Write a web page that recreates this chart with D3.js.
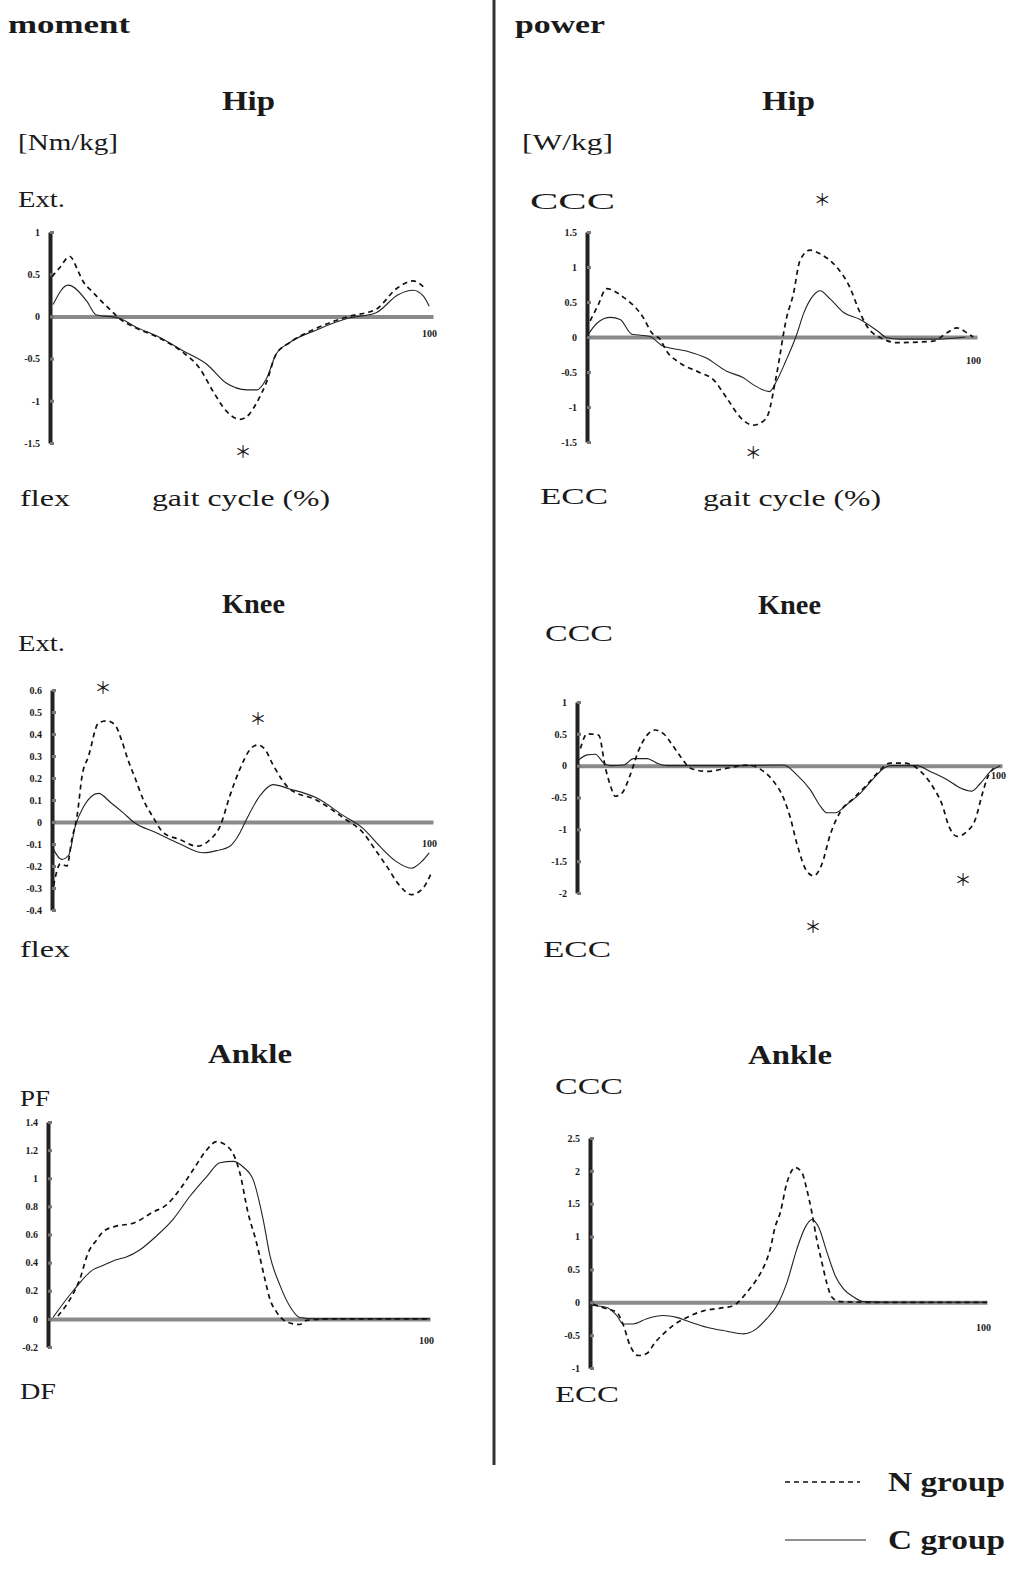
<!DOCTYPE html>
<html lang="en">
<head>
<meta charset="UTF-8">
<script src="https://d3js.org/d3.v7.min.js"></script>
<title>Joint moment and power</title>
<style>
  body{margin:0;background:#fff;}
  svg text{font-family:"Liberation Serif","DejaVu Serif",serif;fill:#1a1a1a;}
  .tick text{font-size:10px;font-weight:bold;}
  .ylab .domain{stroke:#222;stroke-width:4px;}
  .ylab .tick line{stroke:#777;stroke-width:3px;}
  .xlab .domain{stroke:#8a8a8a;stroke-width:4px;}
  .n-line{fill:none;stroke:#111;stroke-width:1.7px;stroke-dasharray:5,4;}
  .c-line{fill:none;stroke:#222;stroke-width:1.1px;}
</style>
<script>
// gait cycle (%) , value
var hipMomN = [[0.5,0.47],[2.4,0.57],[5.2,0.71],[7.4,0.53],[8.7,0.41],[10.9,0.30],[13,0.2],[15.7,0.08],[18,-0.02],[22.6,-0.14],[27.8,-0.24],[34.8,-0.43],[39,-0.61],[42.6,-0.89],[46,-1.12],[49.6,-1.22],[52,-1.16],[54,-1.02],[56.6,-0.77],[59,-0.45],[62.6,-0.31],[69.6,-0.14],[78,0],[85,0.08],[90.5,0.33],[94.8,0.42],[98,0.33]];
var hipMomC = [[0.8,0.14],[4.7,0.37],[9.6,0.18],[12,0.02],[18,-0.02],[22.6,-0.13],[27.8,-0.23],[34.8,-0.41],[41,-0.57],[46,-0.79],[51.4,-0.87],[54,-0.87],[56.6,-0.73],[59,-0.45],[62.6,-0.31],[69.6,-0.16],[78,-0.02],[85,0.04],[91,0.26],[94.8,0.31],[97.5,0.24],[99,0.12]];
var hipMomTicks = [1,0.5,0,-0.5,-1,-1.5];
var hipMomStars = [[50.4,-1.61]];

var kneeMomN = [[0.4,-0.29],[2.2,-0.19],[3.9,-0.2],[5.2,-0.08],[6.6,0.03],[7.9,0.21],[9.6,0.3],[12.2,0.45],[14.4,0.46],[16.6,0.44],[18.3,0.37],[20,0.28],[21.8,0.2],[24,0.1],[26.6,0.02],[29.3,-0.05],[33.6,-0.08],[38,-0.11],[41.5,-0.08],[44.1,-0.02],[46.7,0.12],[49.3,0.24],[52,0.33],[54,0.35],[55.9,0.33],[58,0.26],[62.4,0.15],[69.4,0.1],[76.4,0.02],[81.7,-0.05],[85,-0.13],[87.8,-0.2],[91.3,-0.29],[94.3,-0.33],[97.4,-0.3],[99.6,-0.23]];
var kneeMomC = [[0,-0.11],[2.6,-0.17],[4.4,-0.15],[6.1,-0.02],[8.3,0.07],[12.2,0.13],[15.3,0.09],[18.8,0.04],[21.4,0],[27.5,-0.05],[33.6,-0.1],[39.7,-0.14],[43.2,-0.13],[46.7,-0.11],[49.3,-0.05],[51,0.01],[54.6,0.12],[58,0.17],[62.4,0.15],[69.4,0.11],[76.4,0.03],[81.7,-0.03],[86,-0.11],[90.4,-0.18],[94.3,-0.21],[97,-0.18],[99,-0.14]];
var kneeMomTicks = [0.6,0.5,0.4,0.3,0.2,0.1,0,-0.1,-0.2,-0.3,-0.4];
var kneeMomStars = [[13.4,0.61],[54.1,0.47]];

var ankleMomN = [[2.6,0.02],[6.6,0.18],[8.3,0.28],[10.5,0.47],[12.7,0.56],[14.4,0.62],[17.9,0.66],[22.3,0.68],[27.5,0.76],[31,0.81],[34.5,0.92],[38,1.06],[41.5,1.2],[44.1,1.26],[47.6,1.21],[50.2,1.04],[52.4,0.75],[54.6,0.54],[56.8,0.28],[58.1,0.14],[59.8,0.05],[62.4,-0.02],[65.9,-0.04],[67.7,-0.01],[75,0],[100,0]];
var ankleMomC = [[1.3,0.01],[6.6,0.2],[11.8,0.35],[14.4,0.38],[17.9,0.42],[20.5,0.44],[24,0.49],[28.4,0.59],[32.8,0.71],[37.1,0.87],[41.5,1.01],[45,1.11],[48.5,1.12],[51.1,1.08],[53.7,0.99],[56.3,0.71],[58.1,0.45],[60.7,0.24],[63.3,0.09],[65.9,0.01],[70,0],[100,0]];
var ankleMomTicks = [1.4,1.2,1,0.8,0.6,0.4,0.2,0,-0.2];

var hipPowN = [[0.8,0.23],[2.8,0.45],[5,0.69],[9.3,0.57],[14.4,0.28],[16.6,0.06],[18.7,-0.03],[20.4,-0.2],[23.8,-0.37],[29,-0.51],[32.4,-0.61],[35.8,-0.87],[39.2,-1.14],[42.6,-1.26],[45,-1.21],[46.4,-1.11],[48.6,-0.54],[51.2,0.28],[52.9,0.61],[54.6,1.09],[57.2,1.24],[59.7,1.19],[64,1.0],[67.4,0.71],[69.6,0.4],[71.7,0.16],[76,-0.03],[79.4,-0.08],[88.7,-0.06],[92.3,0.06],[94.8,0.13],[97.4,0.06],[99,0]];
var hipPowC = [[0,0.01],[2.6,0.2],[6,0.28],[8.5,0.25],[11.5,0.04],[16,0.01],[19.5,-0.13],[25.5,-0.2],[30.6,-0.3],[35.8,-0.49],[40,-0.58],[42.6,-0.68],[46.8,-0.78],[48.6,-0.63],[51,-0.34],[53.8,0.04],[55.5,0.33],[58,0.59],[59.7,0.66],[62.4,0.54],[65.8,0.35],[70,0.25],[74.4,0.09],[76.9,-0.01],[80,-0.03],[90,-0.03],[97,0]];
var hipPowTicks = [1.5,1,0.5,0,-0.5,-1,-1.5];
var hipPowStars = [[60.3,1.96],[42.6,-1.66]];

var kneePowN = [[0.8,0.27],[2.4,0.5],[5.1,0.48],[6.7,-0.04],[7.8,-0.3],[9,-0.48],[10.6,-0.43],[12.5,-0.15],[14.5,0.24],[16.5,0.48],[18.4,0.56],[20.4,0.5],[22.7,0.3],[24.7,0.11],[26.7,-0.04],[30.6,-0.09],[35.3,-0.04],[40,0.01],[43.9,-0.09],[46.3,-0.25],[48.6,-0.51],[50.2,-0.82],[51.8,-1.24],[54.1,-1.66],[55.7,-1.73],[57.6,-1.55],[59.6,-1.08],[62,-0.72],[65.1,-0.51],[68.2,-0.3],[70.6,-0.12],[73.7,0.04],[76.9,0.04],[80,-0.04],[82,-0.17],[83.9,-0.35],[85.9,-0.61],[87.5,-0.95],[89.4,-1.11],[91.8,-1.03],[93.7,-0.85],[95.3,-0.46],[96.5,-0.2],[98,-0.04]];
var kneePowC = [[0.4,0.09],[2.4,0.17],[4.3,0.18],[6.3,0.04],[7.8,0],[11,0.01],[13.3,0.11],[16.5,0.11],[18.8,0.04],[21.2,0],[35,0],[48.6,0.01],[51.8,-0.15],[54.9,-0.38],[57.3,-0.64],[58.8,-0.74],[60.8,-0.74],[63.5,-0.61],[66.7,-0.43],[69.8,-0.2],[72.2,-0.04],[73.7,0],[80,0],[83.1,-0.09],[87.1,-0.22],[90.2,-0.35],[92.9,-0.4],[94.9,-0.28],[97.3,-0.09],[99.6,0]];
var kneePowTicks = [1,0.5,0,-0.5,-1,-1.5,-2];
var kneePowStars = [[90.8,-1.79],[55.5,-2.54]];

var anklePowN = [[0.8,-0.03],[4.2,-0.1],[6.7,-0.15],[8.4,-0.35],[10.1,-0.66],[12.2,-0.81],[14.3,-0.78],[16.4,-0.61],[18.5,-0.48],[21,-0.35],[24.4,-0.23],[28.6,-0.13],[32.8,-0.09],[36.1,-0.05],[39.9,0.18],[42,0.35],[43.7,0.53],[45.4,0.81],[46.6,1.14],[47.9,1.36],[49.6,1.82],[51.7,2.05],[53.4,1.97],[54.6,1.72],[55.9,1.36],[57.1,0.96],[58.4,0.61],[59.7,0.28],[60.9,0.08],[63,0.01],[70,0],[100,0]];
var anklePowC = [[0.4,-0.05],[4.2,-0.08],[6.7,-0.2],[8.4,-0.33],[10.9,-0.33],[14.3,-0.25],[18.5,-0.2],[21.8,-0.23],[25.2,-0.3],[29.4,-0.38],[34.5,-0.44],[38.7,-0.48],[42,-0.4],[44.5,-0.25],[47.1,-0.05],[49.6,0.3],[52.1,0.81],[54.2,1.14],[55.9,1.26],[57.6,1.14],[59.7,0.76],[61.8,0.4],[63.9,0.2],[66.4,0.08],[68.9,0.01],[75,0],[100,0]];
var anklePowTicks = [2.5,2,1.5,1,0.5,0,-0.5,-1];

function main(){
  var svg = d3.select("svg");

  var panels = [
    {n: hipMomN, c: hipMomC, ticks: hipMomTicks, stars: hipMomStars, px: [50,433], py: [443,232], lab: 22},
    {n: kneeMomN, c: kneeMomC, ticks: kneeMomTicks, stars: kneeMomStars, px: [52,433], py: [910,690], lab: 26},
    {n: ankleMomN, c: ankleMomC, ticks: ankleMomTicks, stars: [], px: [48,430], py: [1347,1122], lab: 26},
    {n: hipPowN, c: hipPowC, ticks: hipPowTicks, stars: hipPowStars, px: [587,977], py: [442,232], lab: 28},
    {n: kneePowN, c: kneePowC, ticks: kneePowTicks, stars: kneePowStars, px: [577,1002], py: [893,702], lab: 14},
    {n: anklePowN, c: anklePowC, ticks: anklePowTicks, stars: [], px: [590,987], py: [1368,1138], lab: 30}
  ];

  panels.forEach(function(p){
    var x = d3.scaleLinear().domain([0,100]).range(p.px);
    var y = d3.scaleLinear().domain(d3.extent(p.ticks)).range(p.py);
    var g = svg.append("g");

    // zero line with the "100" mark
    g.append("g").attr("class","xlab")
      .attr("transform","translate(0,"+y(0)+")")
      .call(d3.axisBottom(x).tickValues([100]).tickSize(0).tickPadding(p.lab - 8)
        .tickFormat(function(d){return d;}))
      .selectAll(".tick text").attr("font-size","12px").attr("dx","-4");

    g.append("g").attr("class","ylab")
      .attr("transform","translate("+p.px[0]+",0)")
      .call(d3.axisLeft(y).tickValues(p.ticks).tickSize(-4).tickSizeOuter(0).tickPadding(10)
        .tickFormat(function(d){return String(d);}));

    var line = d3.line()
      .x(function(d){return x(d[0]);})
      .y(function(d){return y(d[1]);})
      .curve(d3.curveMonotoneX);

    g.append("path").datum(p.c).attr("class","c-line").attr("d", line);
    g.append("path").datum(p.n).attr("class","n-line").attr("d", line);

    g.selectAll(".star").data(p.stars).enter().append("text")
      .attr("class","star")
      .attr("x", function(d){return x(d[0]);})
      .attr("y", function(d){return y(d[1]);})
      .attr("text-anchor","middle").attr("dy","0.35em")
      .style("font-family","'Noto Sans CJK JP'")
      .style("font-size","17px")
      .text("\uFF0A");
  });

  // divider between the two columns
  svg.append("line").attr("x1",494).attr("x2",494).attr("y1",0).attr("y2",1465)
    .attr("stroke","#333").attr("stroke-width",3);

  var labels = [
    ["moment", 8, 33, 26, true, 122], ["power", 515, 33, 26, true, 90],
    ["Hip", 222, 110, 27, true, 53], ["[Nm/kg]", 18, 150, 23, false, 100],
    ["Ext.", 18, 207, 23, false, 47], ["flex", 20, 506, 23, false, 50],
    ["gait cycle (%)", 152, 506, 23, false, 178],
    ["Hip", 762, 110, 27, true, 53], ["[W/kg]", 522, 150, 23, false, 91],
    ["CCC", 530, 209, 23, false, 85], ["ECC", 540, 504, 23, false, 68],
    ["gait cycle (%)", 703, 506, 23, false, 178],
    ["Knee", 222, 613, 27, true, 63], ["Ext.", 18, 651, 23, false, 47],
    ["flex", 20, 957, 23, false, 50],
    ["Knee", 758, 614, 27, true, 63], ["CCC", 545, 641, 23, false, 68],
    ["ECC", 543, 957, 23, false, 68],
    ["Ankle", 208, 1063, 27, true, 84], ["PF", 20, 1106, 23, false, 30],
    ["DF", 20, 1399, 23, false, 36],
    ["Ankle", 748, 1064, 27, true, 84], ["CCC", 555, 1094, 23, false, 68],
    ["ECC", 555, 1402, 23, false, 64],
    ["N group", 888, 1491, 27, true, 117], ["C group", 888, 1549, 27, true, 117]
  ];
  svg.selectAll(".lab").data(labels).enter().append("text")
    .attr("class","lab")
    .attr("x", function(d){return d[1];})
    .attr("y", function(d){return d[2];})
    .attr("font-size", function(d){return d[3]+"px";})
    .attr("font-weight", function(d){return d[4] ? "bold" : "normal";})
    .attr("textLength", function(d){return d[5];})
    .attr("lengthAdjust","spacingAndGlyphs")
    .text(function(d){return d[0];});

  // legend lines
  svg.append("line").attr("x1",785).attr("x2",860).attr("y1",1482).attr("y2",1482)
    .attr("class","n-line");
  svg.append("line").attr("x1",785).attr("x2",866).attr("y1",1540).attr("y2",1540)
    .attr("class","c-line");
}
</script>
</head>
<body onload="main();">
<svg width="1011" height="1576"></svg>
</body>
</html>
